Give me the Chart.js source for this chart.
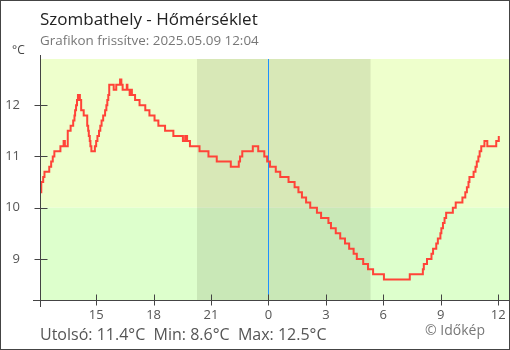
<!DOCTYPE html>
<html>
<head>
<meta charset="utf-8">
<title>Szombathely - Hőmérséklet</title>
<script src="https://cdn.jsdelivr.net/npm/chart.js@4.4.1/dist/chart.umd.min.js"></script>
<style>
  html, body { margin: 0; padding: 0; background: #fff; }
  #wrap { position: relative; width: 510px; height: 350px; overflow: hidden; font-family: "Open Sans", sans-serif; }
  #chart { position: absolute; left: 0; top: 0; }
  #frame { position: absolute; left: 0; top: 0; width: 510px; height: 350px; box-sizing: border-box; border: 1px solid #444; pointer-events: none; }
  .txt { position: absolute; white-space: pre; line-height: 1; }
  #title { left: 40px; top: 10px; font-size: 17px; color: #222; }
  #updated { left: 40px; top: 34px; font-size: 13.4px; color: #777; }
  #unit { left: 12px; top: 44px; font-size: 12px; color: #444; }
  #stats { left: 40px; top: 326px; font-size: 16px; color: #555; }
  #credit { left: 425px; top: 323px; font-size: 14px; color: #777; }
</style>
</head>
<body>
<div id="wrap">
  <canvas id="chart" width="510" height="350"></canvas>
  <div class="txt" id="title">Szombathely - Hőmérséklet</div>
  <div class="txt" id="updated"></div>
  <div class="txt" id="unit">°C</div>
  <div class="txt" id="stats"></div>
  <div class="txt" id="credit">© Időkép</div>
  <div id="frame"></div>
</div>
<script>
// measurements, one entry per change of the reading (times are local, HH:MM)
const timesMay8 = ['12:05','12:08','12:14','12:18','12:33','12:39','12:44','12:49','13:08','13:18',
  '13:22','13:31','13:40','13:48','13:52','13:54','13:57','14:00','14:03','14:09',
  '14:13','14:21','14:32','14:35','14:37','14:40','14:42','14:45','14:56','15:00',
  '15:04','15:09','15:13','15:17','15:22','15:28','15:32','15:35','15:38','15:41',
  '15:55','16:03','16:15','16:19','16:23','16:36','16:38','16:45','16:50','16:52',
  '17:02','17:16','17:34','17:47','18:03','18:15','18:36','19:02','19:32','19:39',
  '19:45','19:54','20:24','20:52','21:18','22:02','22:27','22:31','22:38','23:11',
  '23:28','23:47','23:56'];
const tempsMay8 = [10.3,10.5,10.6,10.7,10.8,10.9,11.0,11.1,11.2,11.3,
  11.2,11.5,11.6,11.7,11.8,11.9,12.0,12.1,12.2,12.1,
  11.9,11.8,11.6,11.5,11.4,11.3,11.2,11.1,11.2,11.3,
  11.4,11.5,11.6,11.7,11.8,11.9,12.0,12.1,12.2,12.4,
  12.3,12.4,12.5,12.4,12.3,12.4,12.3,12.2,12.3,12.2,
  12.1,12.0,11.9,11.8,11.7,11.6,11.5,11.4,11.3,11.4,
  11.3,11.2,11.1,11.0,10.9,10.8,10.9,11.0,11.1,11.2,
  11.1,11.0,10.9];

const timesMay9 = ['00:05','00:23','00:37','01:03','01:22','01:34','01:45','01:58','02:11','02:32',
  '02:45','03:08','03:16','03:31','03:45','04:00','04:13','04:27','04:37','04:57',
  '05:12','05:28','06:02','07:23','08:04','08:07','08:17','08:31','08:36','08:46',
  '08:51','08:59','09:02','09:07','09:12','09:17','09:38','09:47','10:08','10:17',
  '10:22','10:27','10:30','10:43','10:49','10:53','10:58','11:02','11:07','11:17',
  '11:26','11:54','12:02'];
const tempsMay9 = [10.8,10.7,10.6,10.5,10.4,10.3,10.2,10.1,10.0,9.9,
  9.8,9.7,9.6,9.5,9.4,9.3,9.2,9.1,9.0,8.9,
  8.8,8.7,8.6,8.7,8.8,8.9,9.0,9.1,9.2,9.3,
  9.4,9.5,9.6,9.7,9.8,9.9,10.0,10.1,10.2,10.3,
  10.4,10.5,10.6,10.7,10.8,10.9,11.0,11.1,11.2,11.3,
  11.2,11.3,11.4];

const updatedAt = '2025.05.09 12:04';
const axisStart = '12:04';   // May 8
const axisEnd = '12:34';     // May 9
const sunset = '20:16';      // May 8
const sunrise = '05:20';     // May 9
const xTickHours = [-9, -6, -3, 0, 3, 6, 9, 12];
const xTickLabels = ['15', '18', '21', '0', '3', '6', '9', '12'];
const yTicks = [9, 10, 11, 12];
const yMin = 8.2, yMax = 12.9;
const warmLimit = 10;

// hours relative to midnight between the two days
function hm(s) {
  const p = s.split(':');
  return +p[0] + p[1] / 60;
}
const prevDay = s => hm(s) - 24;

const points = timesMay8.map((t, i) => ({ x: prevDay(t), y: tempsMay8[i] }))
  .concat(timesMay9.map((t, i) => ({ x: hm(t), y: tempsMay9[i] })));

const last = tempsMay9[tempsMay9.length - 1];
const all = tempsMay8.concat(tempsMay9);
const fmt = v => v.toFixed(1) + '°C';
document.getElementById('updated').textContent = 'Grafikon frissítve: ' + updatedAt;
document.getElementById('stats').textContent =
  'Utolsó: ' + fmt(last) + '  Min: ' + fmt(Math.min(...all)) + '  Max: ' + fmt(Math.max(...all));

const xMin = prevDay(axisStart), xMax = hm(axisEnd);

const backdrop = {
  id: 'backdrop',
  beforeDraw(chart) {
    const { ctx, chartArea: a, scales: { x, y } } = chart;
    const yw = y.getPixelForValue(warmLimit);
    const w = a.right - a.left;
    ctx.save();
    ctx.fillStyle = '#eeffcc';
    ctx.fillRect(a.left, a.top, w, yw - a.top);
    ctx.fillStyle = '#ddffcc';
    ctx.fillRect(a.left, yw, w, a.bottom - yw);
    // night
    const n0 = x.getPixelForValue(prevDay(sunset));
    const n1 = x.getPixelForValue(hm(sunrise));
    ctx.fillStyle = 'rgba(50,50,20,0.11)';
    ctx.fillRect(n0, a.top, n1 - n0, a.bottom - a.top);
    ctx.restore();
  },
  beforeDatasetsDraw(chart) {
    const { ctx, chartArea: a, scales: { x } } = chart;
    const mx = Math.round(x.getPixelForValue(0)) + 0.5;
    ctx.save();
    ctx.strokeStyle = '#1e90ff';
    ctx.lineWidth = 1;
    ctx.beginPath();
    ctx.moveTo(mx, a.top);
    ctx.lineTo(mx, a.bottom);
    ctx.stroke();
    ctx.restore();
  },
  afterDraw(chart) {
    const { ctx, chartArea: a, scales: { x, y } } = chart;
    const ax = Math.round(a.left) + 0.5;
    const ay = Math.round(a.bottom) + 0.5;
    ctx.save();
    ctx.strokeStyle = '#444';
    ctx.lineWidth = 1;
    ctx.beginPath();
    ctx.moveTo(ax, a.top - 4);
    ctx.lineTo(ax, a.bottom + 7);
    ctx.moveTo(a.left - 7, ay);
    ctx.lineTo(a.right + 1, ay);
    y.ticks.forEach(t => {
      const py = Math.round(y.getPixelForValue(t.value)) + 0.5;
      ctx.moveTo(ax - 6, py);
      ctx.lineTo(ax + 7, py);
    });
    x.ticks.forEach(t => {
      const px = Math.round(x.getPixelForValue(t.value)) + 0.5;
      ctx.moveTo(px, ay - 6);
      ctx.lineTo(px, ay + 5);
    });
    ctx.stroke();
    ctx.restore();
  }
};

const tickFont = { family: '"Open Sans", sans-serif', size: 13 };

new Chart(document.getElementById('chart'), {
  type: 'line',
  data: {
    datasets: [{
      data: points,
      stepped: 'before',
      borderColor: '#ff4438',
      borderWidth: 2,
      pointRadius: 0,
      fill: false
    }]
  },
  options: {
    responsive: false,
    animation: false,
    devicePixelRatio: 1,
    layout: { padding: { top: 59, right: 1, left: 0, bottom: 0 } },
    plugins: { legend: { display: false }, tooltip: { enabled: false } },
    scales: {
      x: {
        type: 'linear',
        min: xMin,
        max: xMax,
        // tick marks are drawn by the backdrop plugin; tickLength only spaces the labels
        grid: { display: false, drawTicks: true, tickLength: 7 },
        border: { display: false },
        afterBuildTicks: s => { s.ticks = [xMin].concat(xTickHours, [xMax]).map(v => ({ value: v })); },
        afterFit: s => { s.height = 50; },
        ticks: {
          autoSkip: false,
          maxRotation: 0,
          padding: 0,
          color: '#555',
          font: tickFont,
          callback: v => { const i = xTickHours.indexOf(v); return i < 0 ? '' : xTickLabels[i]; }
        }
      },
      y: {
        min: yMin,
        max: yMax,
        grid: { display: false, drawTicks: true, tickLength: 8 },
        border: { display: false },
        afterBuildTicks: s => { s.ticks = yTicks.map(v => ({ value: v })); },
        afterFit: s => { s.width = 40; },
        ticks: {
          padding: 12,
          color: '#555',
          font: tickFont,
          callback: v => String(v)
        }
      }
    }
  },
  plugins: [backdrop]
});
</script>
</body>
</html>
